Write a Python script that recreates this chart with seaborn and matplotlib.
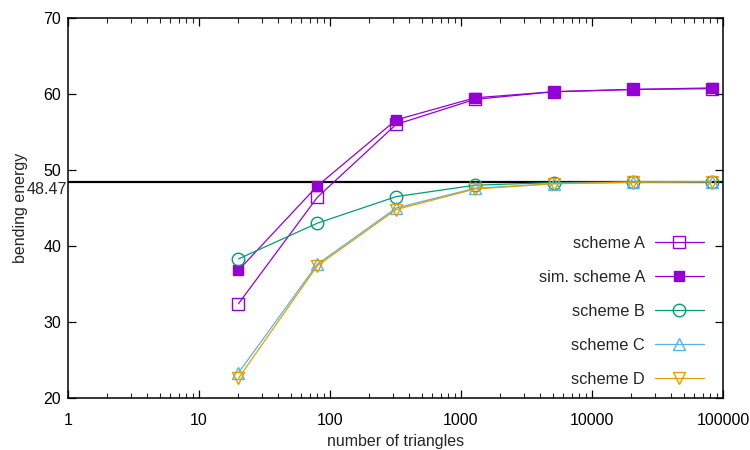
import matplotlib
matplotlib.use("Agg")
import matplotlib.pyplot as plt
import seaborn as sns
import pandas as pd
from matplotlib.ticker import FixedLocator, LogLocator, NullFormatter, FixedFormatter

# ---- data ----
triangles = [20, 80, 320, 1280, 5120, 20480, 81920]
scheme_a = [32.4, 46.4, 56.0, 59.3, 60.3, 60.6, 60.7]
sim_scheme_a = [36.8, 47.9, 56.6, 59.5, 60.3, 60.6, 60.8]
scheme_b = [38.3, 43.0, 46.5, 48.0, 48.35, 48.45, 48.47]
scheme_c = [23.3, 37.6, 45.0, 47.6, 48.2, 48.4, 48.45]
scheme_d = [22.6, 37.4, 44.8, 47.5, 48.2, 48.4, 48.45]
reference_value = 48.47
series_labels = ["scheme A", "sim. scheme A", "scheme B", "scheme C", "scheme D"]
x_ticks = [1, 10, 100, 1000, 10000, 100000]
x_tick_labels = ["1", "10", "100", "1000", "10000", "100000"]
y_ticks = [20, 30, 40, 50, 60, 70]
x_title = "number of triangles"
y_title = "bending energy"

sns.set_style("ticks")
plt.rcParams["font.family"] = ["Liberation Sans", "DejaVu Sans"]

df = pd.DataFrame({
    "triangles": triangles * 5,
    "energy": scheme_a + sim_scheme_a + scheme_b + scheme_c + scheme_d,
    "series": sum([[s] * len(triangles) for s in series_labels], []),
})

colors = {"scheme A": "#9400d3", "sim. scheme A": "#9400d3", "scheme B": "#009e73",
          "scheme C": "#56b4e9", "scheme D": "#e69f00"}
styles = {
    "scheme A": dict(marker="s", ms=9.0, mfc="none"),
    "sim. scheme A": dict(marker="s", ms=7.0, mfc="#9400d3"),
    "scheme B": dict(marker="o", ms=9.0, mfc="none"),
    "scheme C": dict(marker="^", ms=9.0, mfc="none"),
    "scheme D": dict(marker="v", ms=9.0, mfc="none"),
}

fig = plt.figure(figsize=(7.5, 4.5), dpi=100)
ax = fig.add_axes([68 / 750, 1 - 398 / 450, 655 / 750, 380 / 450])

ax.axhline(reference_value, color="black", lw=1.6, zorder=1)

for s in series_labels:
    sub = df[df["series"] == s]
    st = styles[s]
    sns.lineplot(data=sub, x="triangles", y="energy", ax=ax, color=colors[s], lw=0.9,
                 marker=st["marker"], markersize=st["ms"], markerfacecolor=st["mfc"],
                 markeredgecolor=colors[s], markeredgewidth=1.0, label=s, zorder=3)

ax.set_xscale("log")
ax.set_xlim(1, 100000)
ax.set_ylim(20, 70)
ax.xaxis.set_major_locator(FixedLocator(x_ticks))
ax.xaxis.set_major_formatter(FixedFormatter(x_tick_labels))
ax.xaxis.set_minor_locator(LogLocator(base=10, subs=range(2, 10), numticks=20))
ax.xaxis.set_minor_formatter(NullFormatter())
ax.yaxis.set_major_locator(FixedLocator(y_ticks))

for sp in ax.spines.values():
    sp.set_visible(True)
    sp.set_linewidth(1.1)
    sp.set_color("black")

ax.tick_params(axis="both", which="major", direction="in", length=6, width=0.9,
               top=True, right=True, labelsize=11.5, colors="black")
ax.tick_params(axis="both", which="minor", direction="in", length=3.5, width=0.8,
               top=True, right=True)
ax.tick_params(axis="x", which="major", pad=11)
ax.tick_params(axis="y", which="major", pad=5)

ax.text(-0.001, reference_value, "48.47", transform=ax.get_yaxis_transform(),
        ha="right", va="top", fontsize=11.5)

ax.set_xlabel(x_title, fontsize=11.5, labelpad=4)
ax.set_ylabel(y_title, fontsize=11.5)
ax.yaxis.set_label_coords(-40 / 655, 0.5)

leg = ax.legend(loc="lower right", bbox_to_anchor=(0.971, 0.03), frameon=False,
                markerfirst=False, fontsize=11.8, handlelength=3.0, handletextpad=0.6,
                labelspacing=1.15, borderpad=0, borderaxespad=0, markerscale=1.0)

fig.savefig("out.png", dpi=100)
